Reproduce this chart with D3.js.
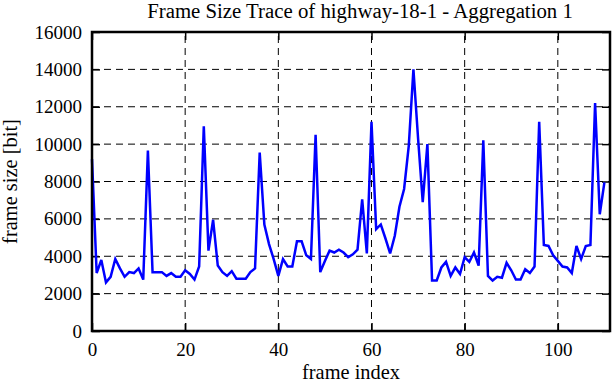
<!DOCTYPE html>
<html>
<head>
<meta charset="utf-8">
<script src="https://cdn.jsdelivr.net/npm/d3@7"></script>
<style>
  body { margin: 0; background: #fff; }
  svg text { font-family: "Liberation Serif", "Times New Roman", serif; fill: #000; }
</style>
</head>
<body>
<div class="chart"></div>
<script>
//Chart text
var title = "Frame Size Trace of highway-18-1 - Aggregation 1";
var xLabel = "frame index";
var yLabel = "frame size [bit]";

//Tick values
var xTicks = [0, 20, 40, 60, 80, 100];
var yTicks = [0, 2000, 4000, 6000, 8000, 10000, 12000, 14000, 16000];

//Frame sizes in bit, one per frame index
var frameSize = [
  9200, 3100, 3800, 2600, 2900, 3850, 3350, 2900, 3150, 3100, 3350, 2750,
  9650, 3150, 3150, 3150, 2950, 3100, 2900, 2900, 3250, 3050, 2750, 3450,
  10950, 4300, 5950, 3500, 3150, 2950, 3200, 2800, 2800, 2800, 3150, 3350,
  9550, 5700, 4650, 3850, 2950, 3850, 3450, 3450, 4800, 4800, 4050, 3850,
  10500, 3150, 3750, 4300, 4200, 4350, 4200, 3950, 4100, 4350, 7050, 4150,
  11200, 5450, 5700, 4950, 4150, 5100, 6650, 7600, 9900, 14000, 10300, 6900,
  10000, 2700, 2700, 3400, 3700, 2950, 3400, 3050, 3950, 3700, 4200, 3500,
  10200, 2950, 2700, 2900, 2850, 3650, 3250, 2750, 2750, 3300, 3100, 3450,
  11200, 4600, 4550, 4050, 3750, 3450, 3400, 3100, 4550, 3850, 4550, 4600,
  12200, 6250, 7950
];

//Width and height
var w = 612;
var h = 382;
var margin = {top: 32, right: 2, bottom: 51, left: 92};

var svg = d3.select(".chart")
    .append("svg")
    .attr("width", w)
    .attr("height", h);

//Scales
var xScale = d3.scaleLinear()
    .domain([0, 111.2])
    .range([margin.left, w - margin.right]);

var yScale = d3.scaleLinear()
    .domain([0, 16000])
    .range([h - margin.bottom, margin.top]);

var x0 = margin.left, x1 = w - margin.right;
var y0 = h - margin.bottom, y1 = margin.top;

//Shrink/grow a text so it is as wide as in the reference
function fitWidth(sel, target) {
    sel.style("font-size", "20px");
    var len = sel.node().getComputedTextLength();
    sel.style("font-size", (20 * target / len).toFixed(2) + "px");
}

//Dashed grid
svg.append("g")
    .selectAll("line")
    .data(xTicks.filter(d => d > 0))
    .enter()
    .append("line")
    .attr("x1", d => xScale(d))
    .attr("x2", d => xScale(d))
    .attr("y1", y0)
    .attr("y2", y1)
    .attr("stroke", "#000")
    .attr("stroke-width", 1)
    .attr("stroke-dasharray", "7,5");

svg.append("g")
    .selectAll("line")
    .data(yTicks.filter(d => d > 0 && d < 16000))
    .enter()
    .append("line")
    .attr("x1", x0)
    .attr("x2", x1)
    .attr("y1", d => yScale(d))
    .attr("y2", d => yScale(d))
    .attr("stroke", "#000")
    .attr("stroke-width", 1)
    .attr("stroke-dasharray", "7,5");

//Axes with inward ticks, gnuplot style
var tickLen = 8;
var fmt = d3.format("d");
svg.append("g")
    .attr("transform", "translate(0," + y0 + ")")
    .call(d3.axisBottom(xScale).tickValues(xTicks).tickFormat(fmt).tickSize(-tickLen).tickPadding(12))
    .call(g => g.select(".domain").remove());
svg.append("g")
    .attr("transform", "translate(0," + y1 + ")")
    .call(d3.axisTop(xScale).tickValues(xTicks).tickSize(-tickLen).tickFormat(""))
    .call(g => g.select(".domain").remove());
svg.append("g")
    .attr("transform", "translate(" + x0 + ",0)")
    .call(d3.axisLeft(yScale).tickValues(yTicks).tickFormat(fmt).tickSize(-tickLen).tickPadding(10))
    .call(g => g.select(".domain").remove());
svg.append("g")
    .attr("transform", "translate(" + x1 + ",0)")
    .call(d3.axisRight(yScale).tickValues(yTicks).tickSize(-tickLen).tickFormat(""))
    .call(g => g.select(".domain").remove());

svg.selectAll("g").attr("font-family", null).attr("font-size", null);
svg.selectAll(".tick line").attr("stroke", "#000").attr("stroke-width", 1.5);
svg.selectAll(".tick text")
    .attr("fill", "#000")
    .style("font-family", "'Liberation Serif', serif")
    .style("font-size", "19px");

//Data line
var line = d3.line()
    .x((d, i) => xScale(i))
    .y(d => yScale(d));

svg.append("path")
    .datum(frameSize)
    .attr("d", line)
    .attr("fill", "none")
    .attr("stroke", "#0000ff")
    .attr("stroke-width", 2.5)
    .attr("stroke-linejoin", "miter")
    .attr("stroke-miterlimit", 3);

//Border
svg.append("rect")
    .attr("x", x0)
    .attr("y", y1)
    .attr("width", x1 - x0)
    .attr("height", y0 - y1)
    .attr("fill", "none")
    .attr("stroke", "#000")
    .attr("stroke-width", 2.5);

//Titles
var titleText = svg.append("text")
    .attr("x", 360)
    .attr("y", 17.5)
    .attr("text-anchor", "middle")
    .text(title);
fitWidth(titleText, 426);

var xLabelText = svg.append("text")
    .attr("x", (x0 + x1) / 2)
    .attr("y", 379)
    .attr("text-anchor", "middle")
    .text(xLabel);
fitWidth(xLabelText, 98);

var yLabelText = svg.append("text")
    .attr("transform", "translate(17," + ((y0 + y1) / 2) + ") rotate(-90)")
    .attr("text-anchor", "middle")
    .text(yLabel);
fitWidth(yLabelText, 125);
</script>
</body>
</html>
